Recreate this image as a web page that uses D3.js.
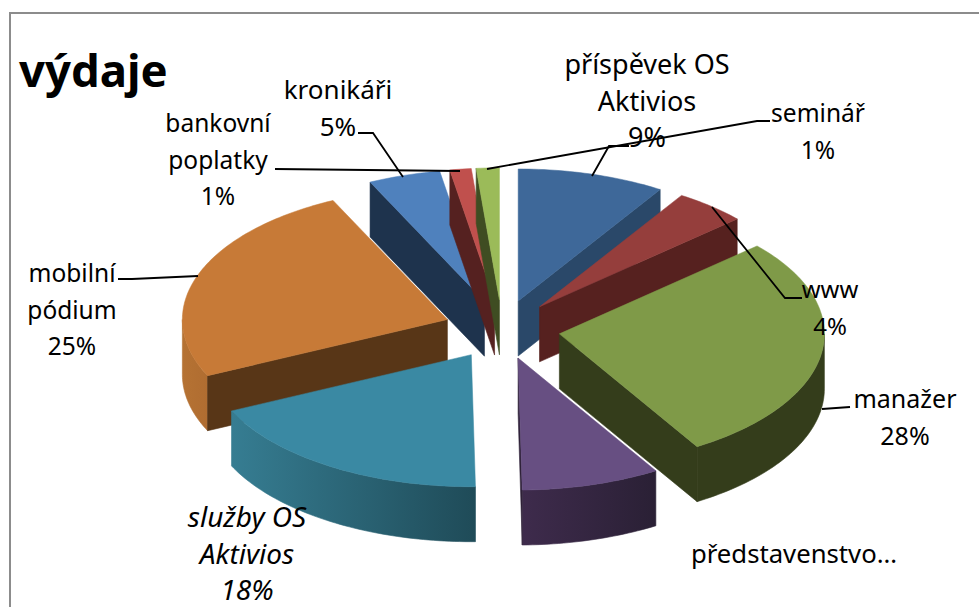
<!DOCTYPE html>
<html><head><meta charset="utf-8">
<script src="https://cdn.jsdelivr.net/npm/d3@7"></script>
<style>html,body{margin:0;padding:0;background:#fff;overflow:hidden}svg{display:block}text{font-family:"Noto Sans",sans-serif;fill:#000}</style>
</head><body><svg id="c" width="979" height="607"></svg>
<script>
// DATA
const categories = ["příspěvek OS Aktivios","www","manažer","představenstvo","služby OS Aktivios","mobilní pódium","kronikáři","bankovní poplatky","seminář"];
const values = [9,4.4,27.9,8.45,18.25,24.9,4.4,1.3,1.4];
const topColors  = ["#3e6899","#953e3c","#7f9a48","#674f82","#3a89a3","#c77a37","#4f81bd","#c0504d","#9bbb59"];
const wallColors = ["#2a4869","#56211f","#343d1b","#2f2239","#27586a","#583617","#1e334d","#552120","#3f4d22"];
const rimFrom    = ["#2a4869","#56211f","#343d1b","#3e2b4c","#367d92","#b57233","#1e334d","#552120","#3f4d22"];
const rimTo      = ["#2a4869","#56211f","#343d1b","#2a2035","#1f4b58","#b06d31","#1e334d","#552120","#3f4d22"];
const paintOrder = [6,7,8,0,1,3,2,5,4];

// LAYOUT
const cx=502, cy=329.5, rx=265, ry=132, depth=55, explode=58, explodeY=29.7;
const labels = [
 {lines:["příspěvek OS","Aktivios","9%"],x:647,y:74,size:27},
 {lines:["www","4%"],x:830,y:298,size:24},
 {lines:["manažer","28%"],x:905,y:408,size:25},
 {lines:["představenstvo…"],x:794,y:563,size:25.7},
 {lines:["služby OS","Aktivios","18%"],x:247,y:527,size:28,italic:true},
 {lines:["mobilní","pódium","25%"],x:72,y:282,size:24.5},
 {lines:["kronikáři","5%"],x:338,y:99,size:26},
 {lines:["bankovní","poplatky","1%"],x:218,y:132,size:24.5},
 {lines:["seminář","1%"],x:818,y:122,size:24.5}
];
const leaders = [
 [[592,176],[609,146],[629,146]],
 [[712,207],[785,298],[802,298]],
 [[822,409],[850,407]],
 null,null,
 [[198,276],[132,279],[118,279]],
 [[403,177],[373,133],[358,133]],
 [[275,169],[460,171]],
 [[487,169],[757,121],[770,121]]
];

const svg=d3.select("#c");
const defs=svg.append("defs");
const X=d3.scaleLinear().domain([-1,1]).range([-rx,rx]);
const Y=d3.scaleLinear().domain([-1,1]).range([-ry,ry]);
const OX=d3.scaleLinear().domain([-1,1]).range([cx-explode,cx+explode]);
const OY=d3.scaleLinear().domain([-1,1]).range([cy-explodeY,cy+explodeY]);

const arcs=d3.pie().sort(null).value(d=>d)(values);
const line=d3.line();
const ang=(a0,a1)=>{const n=Math.max(2,Math.ceil(Math.abs(a1-a0)/0.02));return d3.range(n+1).map(i=>a0+(a1-a0)*i/n);};

// frame
svg.append("path").attr("d","M10,607V13H979").attr("fill","none").attr("stroke","#8c8c8c").attr("stroke-width",2);

paintOrder.forEach(i=>{
  const a=arcs[i], mid=(a.startAngle+a.endAngle)/2;
  const ax=OX(Math.sin(mid)), ay=OY(-Math.cos(mid));
  const P=(t,dz=0)=>[ax+X(Math.sin(t)),ay+Y(-Math.cos(t))+dz];
  const g=svg.append("g").attr("class","slice");
  const wall=(t)=>line([[ax,ay],P(t),P(t,depth),[ax,ay+depth]])+"Z";
  const r0=Math.max(a.startAngle,Math.PI/2), r1=Math.min(a.endAngle,Math.PI*1.5);
  if(r1>r0){
    const id="rim"+i;
    const lg=defs.append("linearGradient").attr("id",id).attr("gradientUnits","userSpaceOnUse")
      .attr("x1",P(r1)[0]).attr("x2",P(r0)[0]).attr("y1",0).attr("y2",0);
    lg.append("stop").attr("offset",0).attr("stop-color",rimFrom[i]);
    lg.append("stop").attr("offset",1).attr("stop-color",rimTo[i]);
    const ts=ang(r0,r1);
    g.append("path").attr("d",line(ts.map(t=>P(t)).concat(ts.slice().reverse().map(t=>P(t,depth))))+"Z")
      .attr("fill",`url(#${id})`).attr("stroke",`url(#${id})`).attr("stroke-width",.6);
  }
  if(Math.sin(a.startAngle)<-1e-6) g.append("path").attr("d",wall(a.startAngle)).attr("fill",wallColors[i]).attr("stroke",wallColors[i]).attr("stroke-width",.6);
  if(Math.sin(a.endAngle)>1e-6) g.append("path").attr("d",wall(a.endAngle)).attr("fill",wallColors[i]).attr("stroke",wallColors[i]).attr("stroke-width",.6);
  g.append("path").attr("d",line([[ax,ay]].concat(ang(a.startAngle,a.endAngle).map(t=>P(t))))+"Z")
   .attr("fill",topColors[i]).attr("stroke",topColors[i]).attr("stroke-width",.5);
});

// leaders
leaders.forEach(p=>{ if(p) svg.append("path").attr("d",line(p)).attr("fill","none").attr("stroke","#000").attr("stroke-width",1.8); });

// labels
labels.forEach(l=>{
  const t=svg.append("text").attr("text-anchor","middle").attr("font-size",l.size).attr("font-style",l.italic?"italic":"normal");
  l.lines.forEach((s,j)=>t.append("tspan").attr("x",l.x).attr("y",l.y+j*36.5).text(s));
});
svg.append("text").attr("x",19).attr("y",87).attr("font-size",45.5).attr("font-weight",700).text("výdaje");
</script></body></html>
